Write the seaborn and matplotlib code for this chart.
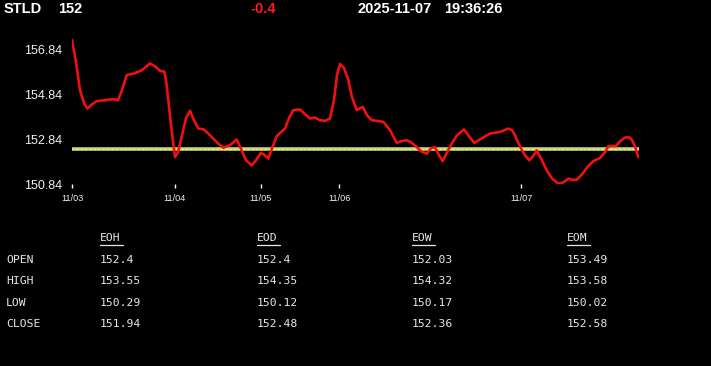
import numpy as np
import pandas as pd
import matplotlib
matplotlib.use("Agg")
import matplotlib.pyplot as plt
import seaborn as sns
from matplotlib.lines import Line2D

# ---------------- data ----------------
symbol = "STLD"
last_price = "152"
change = "-0.4"
stamp_date = "2025-11-07"
stamp_time = "19:36:26"

# bar position along the session axis, and price
bar_pos = [0, 4, 8, 12, 15.3, 20, 24.7, 33, 41, 46, 50, 54.7, 63, 70, 78, 84, 88, 92.3,
           94, 96, 99, 103, 106, 109.7, 114, 118, 122, 126.3, 131.3, 136, 141.3, 146,
           151.3, 158, 164.7, 169.7, 174, 179.7, 184, 188.7, 192, 196.3, 200, 204.7,
           209, 213, 217, 221.3, 228, 233, 238, 243, 248, 253, 258, 262, 265, 268,
           272, 276.3, 280, 284.7, 290.7, 295, 299.7, 305, 311.3, 318, 324.7, 329,
           334.7, 339, 344.7, 349, 354.7, 359, 363, 367, 370.7, 375, 379.7, 385, 392,
           397, 402.3, 410, 418, 428, 436.3, 440, 443, 446, 449.7, 453, 457.3, 461,
           464.7, 469, 474.7, 480, 486.3, 491, 496.3, 500, 504.7, 510, 516, 521.3, 528,
           533, 536.3, 540, 544, 548, 553, 557, 559.7, 563, 566.3]
price = [157.27, 156.29, 155.04, 154.46, 154.22, 154.41, 154.55, 154.59, 154.64, 154.59,
         155.04, 155.71, 155.79, 155.93, 156.23, 156.07, 155.90, 155.86, 155.49, 154.74,
         153.48, 152.06, 152.27, 152.96, 153.79, 154.12, 153.70, 153.33, 153.30, 153.12,
         152.88, 152.67, 152.48, 152.59, 152.84, 152.36, 151.92, 151.69, 151.92, 152.24,
         152.18, 151.99, 152.45, 152.99, 153.17, 153.33, 153.79, 154.15, 154.18, 153.97,
         153.78, 153.82, 153.70, 153.67, 153.78, 154.59, 155.71, 156.20, 156.02, 155.49,
         154.73, 154.15, 154.30, 153.92, 153.70, 153.67, 153.63, 153.26, 152.69, 152.76,
         152.81, 152.72, 152.51, 152.32, 152.21, 152.45, 152.51, 152.14, 151.88, 152.27,
         152.66, 153.03, 153.29, 152.99, 152.69, 152.90, 153.11, 153.18, 153.33, 153.26,
         153.03, 152.72, 152.39, 152.14, 151.92, 152.09, 152.36, 152.00, 151.47, 151.11,
         150.88, 150.93, 151.10, 151.05, 151.05, 151.29, 151.65, 151.88, 152.02, 152.27,
         152.54, 152.56, 152.55, 152.76, 152.93, 152.94, 152.84, 152.54, 152.06]

day_tick_pos = [0, 102.7, 188.7, 267.3, 449.3]
day_tick_labels = ["11/03", "11/04", "11/05", "11/06", "11/07"]
y_ticks = [150.84, 152.84, 154.84, 156.84]
ref_level = 152.4

table_cols = ["EOH", "EOD", "EOW", "EOM"]
table_rows = ["OPEN", "HIGH", "LOW", "CLOSE"]
eoh = ["152.4", "153.55", "150.29", "151.94"]
eod = ["152.4", "154.35", "150.12", "152.48"]
eow = ["152.03", "154.32", "150.17", "152.36"]
eom = ["153.49", "153.58", "150.02", "152.58"]

# ---------------- figure ----------------
sns.set_theme(style="dark")
W, H = 711, 366
fig = plt.figure(figsize=(W / 100, H / 100), dpi=100, facecolor="black")

def fx(px):
    return px / W

def fy(py):
    return 1 - py / H

ax_left, ax_right, ax_top, ax_bot = 72, 638.5, 38, 184.5
ax = fig.add_axes([fx(ax_left), fy(ax_bot), (ax_right - ax_left) / W, (ax_bot - ax_top) / H])
ax.set_facecolor("black")

df = pd.DataFrame({"pos": bar_pos, "price": price})
ax.axhline(ref_level, color="#c9d66c", lw=2.6, zorder=2)
ax.axhline(ref_level, color="#f3f7c8", lw=0.7, ls=(0, (1.5, 3)), zorder=2.1)
sns.lineplot(data=df, x="pos", y="price", ax=ax, color="#f01010", lw=1.9, zorder=3)

ax.set_xlim(0, 566.5)
ax.set_ylim(150.84, 157.36)
ax.grid(False)
for s in ax.spines.values():
    s.set_visible(False)
ax.set_xlabel("")
ax.set_ylabel("")

ax.set_yticks(y_ticks)
ax.set_yticklabels([f"{v:.2f}" for v in y_ticks], fontfamily="Liberation Sans",
                   fontsize=9, color="#f0f0f0")
ax.tick_params(axis="y", length=0, pad=7)
ax.set_xticks(day_tick_pos)
ax.set_xticklabels(day_tick_labels, fontfamily="Liberation Sans", fontsize=6.6, color="#f0f0f0")
ax.tick_params(axis="x", length=3, width=1, color="white", pad=3.5, direction="out", bottom=True)

# header
hdr = dict(fontfamily="Liberation Sans", fontweight="bold", fontsize=10.5, va="center")
fig.text(fx(4), fy(9), symbol, color="white", **hdr)
fig.text(fx(58), fy(9), last_price, color="white", **hdr)
fig.text(fx(250), fy(9), change, color="#ff1a1a", **hdr)
fig.text(fx(358), fy(9), stamp_date, color="white", **hdr)
fig.text(fx(444), fy(9), stamp_time, color="white", **hdr)

# table
mono = dict(fontfamily="DejaVu Sans Mono", fontsize=8.2, color="#e8e8e8", va="center")
col_x = [100, 256.5, 412, 567]
row_y = [260, 281, 302.5, 324]
cols_vals = [eoh, eod, eow, eom]
for cx, name, vals in zip(col_x, table_cols, cols_vals):
    t = fig.text(fx(cx), fy(238), name, **mono)
    fig.add_artist(Line2D([fx(cx), fx(cx + 23)], [fy(244.5), fy(244.5)],
                          color="#e8e8e8", lw=0.9, transform=fig.transFigure))
    for ry, v in zip(row_y, vals):
        fig.text(fx(cx), fy(ry), v, **mono)
for ry, r in zip(row_y, table_rows):
    fig.text(fx(6), fy(ry), r, **mono)

fig.savefig("out.png", dpi=100, facecolor="black")
